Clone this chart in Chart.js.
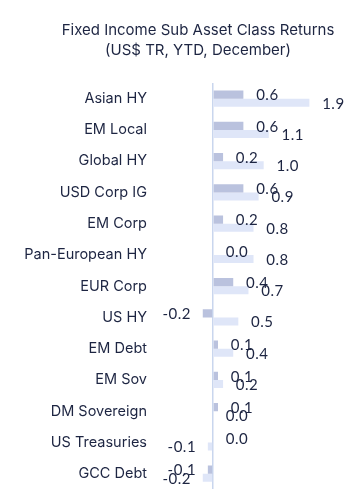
<!DOCTYPE html>
<html>
<head>
<meta charset="utf-8">
<script src="https://cdn.jsdelivr.net/npm/chart.js@4/dist/chart.umd.min.js"></script>
<style>
  html, body { margin: 0; padding: 0; background: #fff; }
  #wrap { width: 359px; height: 503px; position: relative; }
</style>
</head>
<body>
<div id="wrap"><canvas id="chart"></canvas></div>
<script>
const categories = ["Asian HY", "EM Local", "Global HY", "USD Corp IG", "EM Corp", "Pan-European HY",
  "EUR Corp", "US HY", "EM Debt", "EM Sov", "DM Sovereign", "US Treasuries", "GCC Debt"];
const seriesA = [0.6, 0.6, 0.2, 0.6, 0.2, 0.0, 0.4, -0.2, 0.1, 0.1, 0.1, 0.0, -0.1];
const seriesB = [1.9, 1.1, 1.0, 0.9, 0.8, 0.8, 0.7, 0.5, 0.4, 0.2, 0.0, -0.1, -0.2];
const titleLines = ["Fixed Income Sub Asset Class Returns", "(US$ TR, YTD, December)"];

const textColor = "#1d2542";

// value labels next to bar ends
const valueLabels = {
  id: "valueLabels",
  afterDatasetsDraw(chart) {
    const ctx = chart.ctx;
    ctx.save();
    ctx.font = "15px Lato";
    ctx.letterSpacing = "0.5px";
    ctx.fillStyle = textColor;
    ctx.textAlign = "center";
    ctx.textBaseline = "middle";
    chart.data.datasets.forEach(function (ds, i) {
      chart.getDatasetMeta(i).data.forEach(function (bar, j) {
        const v = ds.data[j];
        const dx = v < 0 ? -26 : 24;
        ctx.fillText(v.toFixed(1), bar.x + dx, bar.y + 1);
      });
    });
    ctx.restore();
  }
};

// title sits a little right of the canvas centre, like the original
const titleText = {
  id: "titleText",
  afterDraw(chart) {
    const ctx = chart.ctx;
    ctx.save();
    ctx.font = "15px Inter";
    ctx.fillStyle = textColor;
    ctx.textAlign = "center";
    ctx.textBaseline = "middle";
    titleLines.forEach(function (t, i) {
      ctx.fillText(t, 198, 30 + i * 20);
    });
    ctx.restore();
  }
};

new Chart(document.getElementById("chart"), {
  type: "bar",
  data: {
    labels: categories,
    datasets: [
      { label: "A", data: seriesA, backgroundColor: "#bac2de", categoryPercentage: 0.52, barPercentage: 1 },
      { label: "B", data: seriesB, backgroundColor: "#dfe6f8", categoryPercentage: 0.52, barPercentage: 1 }
    ]
  },
  plugins: [valueLabels, titleText],
  options: {
    indexAxis: "y",
    responsive: true,
    maintainAspectRatio: false,
    animation: false,
    layout: { padding: { left: 0, right: 9, top: 83, bottom: 13 } },
    plugins: {
      legend: { display: false },
      tooltip: { enabled: false }
    },
    scales: {
      x: {
        min: -1.2,
        max: 2.7,
        ticks: { display: false, stepSize: 0.5 },
        border: { display: false },
        grid: {
          drawTicks: false,
          lineWidth: 1.5,
          color: function (c) { return c.tick && c.tick.value === 0 ? "#c9d6ee" : "rgba(0,0,0,0)"; }
        }
      },
      y: {
        afterFit: function (scale) { scale.width = 152; },
        border: { display: false },
        grid: { display: false, drawTicks: false, tickLength: 0 },
        ticks: {
          color: textColor,
          padding: 5,
          font: { family: "Inter", size: 14.5 }
        }
      }
    }
  }
});
</script>
</body>
</html>
